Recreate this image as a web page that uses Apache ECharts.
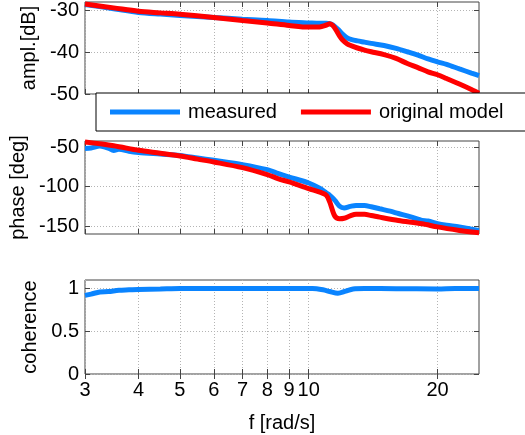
<!DOCTYPE html>
<html>
<head>
<meta charset="utf-8">
<script src="https://cdn.jsdelivr.net/npm/echarts@6/dist/echarts.min.js"></script>
<style>
  html, body { margin: 0; padding: 0; background: #fff; }
  #chart { width: 525px; height: 435px; }
</style>
</head>
<body>
<div id="chart"></div>
<script>
// Frequency response: amplitude, phase and coherence versus frequency (rad/s)
const freqTicks = [3, 4, 5, 6, 7, 8, 9, 10, 20];
const ampTicks = [-50, -40, -30];
const phaseTicks = [-150, -100, -50];
const cohTicks = [0, 0.5, 1];

const ampFreq = [3, 3.5, 4, 4.5, 5, 6, 7, 8, 9, 10, 10.6, 11.0, 11.2, 11.4, 11.6, 11.8, 12.0, 12.3, 12.6, 13, 13.5, 14, 15, 16, 17, 18, 19, 20, 21, 22.5, 24, 25];
const ampMeasured = [-28.6, -29.6, -30.5, -30.9, -31.2, -31.7, -32.1, -32.4, -32.8, -33.0, -33.1, -33.1, -33.2, -33.5, -34.2, -34.9, -35.7, -36.6, -37.0, -37.3, -37.6, -37.9, -38.4, -39.1, -39.9, -40.7, -41.6, -42.3, -42.9, -44.0, -45.0, -45.6];
const ampModel = [-28.5, -29.4, -30.2, -30.6, -30.95, -31.7, -32.4, -33.0, -33.6, -34.0, -33.95, -33.5, -33.2, -33.7, -34.8, -36.1, -37.1, -38.0, -38.5, -39.0, -39.5, -39.9, -40.6, -41.5, -42.7, -43.7, -44.7, -45.4, -46.3, -47.6, -48.9, -49.8];

const phaseFreqMeasured = [3, 3.1, 3.25, 3.4, 3.5, 3.6, 3.8, 4, 4.5, 5, 5.5, 6, 7, 8, 8.5, 9, 10, 10.6, 11.0, 11.2, 11.5, 11.8, 12.1, 12.5, 12.9, 13.5, 14, 14.65, 15.5, 16.2, 17, 18, 18.4, 19, 20, 21, 22.5, 24, 25];
const phaseMeasured = [-51.5, -51, -48.5, -51, -54, -52.5, -55, -56.5, -58.5, -60.3, -63.5, -66.5, -72, -78.4, -83.4, -87.7, -95.3, -102, -108, -111, -117, -124.6, -127, -125, -123.7, -123.7, -125.5, -128, -131, -134, -137, -141, -142.8, -143.5, -147, -149, -151, -154, -155.5];

const phaseFreqModel = [3, 3.5, 4, 4.5, 5, 5.5, 6, 7, 8, 8.5, 9, 10, 10.7, 11.0, 11.2, 11.5, 11.8, 12.1, 12.5, 12.9, 13.5, 14, 14.65, 16.2, 18.4, 20, 22.5, 24, 25];
const phaseModel = [-43.3, -48, -53.8, -57.5, -61, -65, -68.6, -75.8, -84.7, -90, -94, -102.5, -107.6, -111, -119.5, -137, -140.6, -140, -137, -135, -135, -136.5, -138.6, -142.8, -147, -151, -155.5, -157.5, -158.4];

const cohFreq = [3, 3.1, 3.25, 3.4, 3.6, 3.8, 4, 4.5, 5, 6, 8, 10.2, 10.8, 11.2, 11.7, 12.2, 12.7, 13.5, 16, 20, 22, 25];
const coherence = [0.92, 0.935, 0.96, 0.965, 0.98, 0.985, 0.99, 0.995, 1.0, 1.0, 1.0, 1.0, 0.985, 0.965, 0.945, 0.97, 0.995, 1.0, 0.998, 0.995, 1.0, 1.0];

const pairs = (xs, ys) => xs.map((x, i) => [x, ys[i]]);

const FONT = '"Liberation Sans", Arial, sans-serif';
const FRAME = '#444';
const BLUE = '#0a84ff';
const RED = '#ff0000';

const gridBox = { show: true, borderColor: FRAME, borderWidth: 1, backgroundColor: '#fff' };
const grids = [
  Object.assign({ left: 85, top: 2, width: 394, height: 92 }, gridBox),
  Object.assign({ left: 85, top: 141, width: 394, height: 93 }, gridBox),
  Object.assign({ left: 85, top: 280, width: 394, height: 94 }, gridBox)
];

const splitStyle = { show: true, lineStyle: { color: '#b4b4b4', type: [1, 2], width: 1 } };
const tickStyle = { show: true, inside: true, length: 5, lineStyle: { color: FRAME, width: 1 } };
const labelStyle = { color: '#000', fontSize: 20, fontFamily: FONT };

function freqAxis(gi, position, withLabels) {
  return {
    type: 'log', logBase: 10, gridIndex: gi, position: position,
    min: 3, max: 25,
    axisLine: { show: false },
    axisTick: Object.assign({ customValues: freqTicks }, tickStyle),
    axisLabel: Object.assign({ show: withLabels, customValues: freqTicks, margin: 6 }, labelStyle),
    splitLine: position === 'bottom' ? splitStyle : { show: false },
    minorTick: { show: false },
    name: withLabels ? 'f [rad/s]' : '',
    nameLocation: 'middle', nameGap: 39,
    nameTextStyle: labelStyle
  };
}

function valueAxis(gi, position, min, max, ticks, name, gap) {
  const left = position === 'left';
  return {
    type: 'value', gridIndex: gi, position: position,
    min: min, max: max,
    axisLine: { show: false },
    axisTick: Object.assign({ customValues: ticks }, tickStyle),
    axisLabel: Object.assign({ show: left, customValues: ticks, margin: 6 }, labelStyle),
    splitLine: left ? splitStyle : { show: false },
    name: left ? name : '',
    nameLocation: 'middle', nameRotate: 90, nameGap: gap,
    nameTextStyle: labelStyle
  };
}

const lineSeries = (name, xi, yi, data, color) => ({
  name: name, type: 'line', xAxisIndex: xi, yAxisIndex: yi,
  data: data, showSymbol: false, symbol: 'none', smooth: 0.3,
  lineStyle: { color: color, width: 5 }, itemStyle: { color: color },
  emphasis: { disabled: true }, animation: false
});

const option = {
  animation: false,
  grid: grids,
  xAxis: [
    freqAxis(0, 'bottom', false), freqAxis(1, 'bottom', false), freqAxis(2, 'bottom', true),
    freqAxis(0, 'top', false), freqAxis(1, 'top', false), freqAxis(2, 'top', false)
  ],
  yAxis: [
    valueAxis(0, 'left', -50, -28, ampTicks, 'ampl.[dB]', 45),
    valueAxis(1, 'left', -160, -42, phaseTicks, 'phase [deg]', 57),
    valueAxis(2, 'left', 0, 1.1, cohTicks, 'coherence', 45),
    valueAxis(0, 'right', -50, -28, ampTicks, '', 0),
    valueAxis(1, 'right', -160, -42, phaseTicks, '', 0),
    valueAxis(2, 'right', 0, 1.1, cohTicks, '', 0)
  ],
  legend: {
    orient: 'horizontal',
    left: 96, top: 93, width: 460,
    padding: [9, 40, 9, 14],
    itemWidth: 70, itemHeight: 5, itemGap: 24,
    icon: 'rect',
    borderColor: '#000', borderWidth: 1, backgroundColor: '#fff',
    textStyle: { color: '#000', fontSize: 20, fontFamily: FONT, padding: [0, 0, 0, 3] },
    data: ['measured', 'original model'],
    selectedMode: false,
    z: 10
  },
  series: [
    lineSeries('measured', 0, 0, pairs(ampFreq, ampMeasured), BLUE),
    lineSeries('original model', 0, 0, pairs(ampFreq, ampModel), RED),
    lineSeries('measured', 1, 1, pairs(phaseFreqMeasured, phaseMeasured), BLUE),
    lineSeries('original model', 1, 1, pairs(phaseFreqModel, phaseModel), RED),
    lineSeries('coherence', 2, 2, pairs(cohFreq, coherence), BLUE)
  ]
};

const chart = echarts.init(document.getElementById('chart'), null, { renderer: 'canvas' });
chart.setOption(option);
</script>
</body>
</html>
